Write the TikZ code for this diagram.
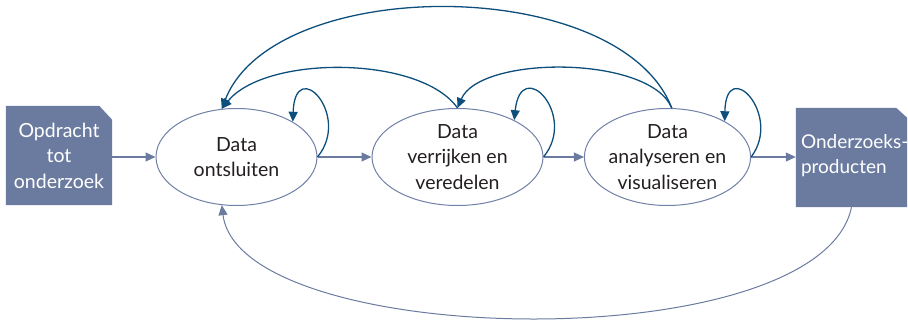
\documentclass[tikz,border=0pt]{standalone}
\usepackage{fontspec}
\setmainfont{Lato}
\usetikzlibrary{arrows.meta,shapes.geometric}

\definecolor{boxblue}{HTML}{6B7BA0}
\definecolor{rimblue}{HTML}{7080A6}
\definecolor{loopblue}{HTML}{0D4F7C}
\definecolor{inktext}{HTML}{231F20}

\tikzset{
  stage/.style={ellipse, draw=rimblue, line width=1pt, inner sep=0pt,
    minimum width=161pt, minimum height=97pt, align=center,
    font=\fontsize{19.5}{25.5}\selectfont, text=inktext},
  docbox/.style={rectangle, inner sep=0pt, align=center,
    font=\fontsize{19.5}{25.5}\selectfont, text=white},
  flow/.style={draw=boxblue, line width=1.1pt,
    -{Triangle[length=10pt,width=9pt]}},
  back/.style={draw=loopblue, line width=1.3pt,
    -{Triangle[length=10pt,width=9pt]}},
}

\begin{document}
\begin{tikzpicture}[x=1pt,y=-1pt]
\useasboundingbox (0,0) rectangle (908,320);

% input and output documents (filled shape drawn behind the label)
\node[docbox, minimum width=106pt, minimum height=99pt] (b1) at (59,155.5) {};
\fill[boxblue] (b1.south west) -- (b1.north west) -- ([xshift=-13pt]b1.north east)
  -- ([yshift=-14pt]b1.north east) -- (b1.south east) -- cycle;
\node[docbox] at (b1) {Opdracht\\tot\\onderzoek};

\node[docbox, minimum width=111pt, minimum height=99pt] (b2) at (851.5,157.5) {};
\fill[boxblue] (b2.south west) -- (b2.north west) -- ([xshift=-11pt]b2.north east)
  -- ([yshift=-10pt]b2.north east) -- (b2.south east) -- cycle;
\node[docbox, align=left, anchor=west, font=\fontsize{19}{25}\selectfont]
  at ([xshift=5pt,yshift=2pt]b2.west) {Onderzoeks-\\producten};

% the three stages
\node[stage] (e1) at (236.5,157) {Data\\ontsluiten};
\node[stage, minimum width=171pt] (e2) at (457.5,157) {Data\\verrijken en\\veredelen};
\node[stage] (e3) at (667.5,157) {Data\\analyseren en\\visualiseren};

% main flow
\draw[flow] (b1.east |- e1) -- (e1.west);
\draw[flow] (e1.east) -- (e2.west);
\draw[flow] (e2.east) -- (e3.west);
\draw[flow] (e3.east) -- (b2.west |- e3);

% iterations within a stage
\draw[back] (e1.east) .. controls (352,115) and (295,55) .. (e1.32);
\draw[back] (e2.east) .. controls (578,115) and (521,55) .. (e2.33);
\draw[back] (e3.east) .. controls (783,115) and (726,55) .. (e3.32);

% feedback to earlier stages
\draw[back] (e2.north) .. controls (420,55) and (265,55) .. (e1.107);
\draw[back] (e3.85) .. controls (650,55) and (480,55) .. (e2.north);
\draw[back] (e3.85) .. controls (620,-26) and (274,-26) .. (e1.107);

% from the products back to the start
\draw[flow, line width=1pt] (b2.south) .. controls (820,360) and (240,350) .. (e1.253);
\end{tikzpicture}
\end{document}
